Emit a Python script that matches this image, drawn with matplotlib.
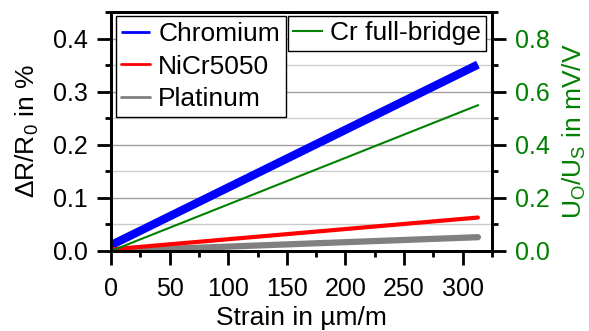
"""
Resistance change of thin-film strain gauges and Cr full-bridge output
versus applied strain
"""

import matplotlib
matplotlib.use("Agg")
import matplotlib.pyplot as plt
from matplotlib.ticker import MultipleLocator
import numpy as np

plt.rcParams["font.family"] = ["Liberation Sans", "DejaVu Sans"]
plt.rcParams["mathtext.fontset"] = "custom"
plt.rcParams["mathtext.rm"] = "Liberation Sans"
plt.rcParams["mathtext.it"] = "Liberation Sans:italic"

# strain in um/m (start and end of the linear ramps)
strain = [0, 313]
# resistance change in %
chromium = [0.011, 0.351]
nicr5050 = [0.003, 0.063]
platinum = [0.000, 0.026]
# bridge output in mV/V
cr_bridge = [0.0, 0.549]

green = "#008000"
fs_tick = 18
fs_label = 19

fig = plt.figure(figsize=(5.89, 3.31), dpi=100)
ax = fig.add_axes([0.1885, 0.2417, 0.6468, 0.722])
ax2 = ax.twinx()

l1, = ax.plot(strain, chromium, color="#0000ff", lw=6,
              solid_capstyle="butt", label="Chromium", zorder=3)
l2, = ax.plot(strain, nicr5050, color="#ff0000", lw=3,
              solid_capstyle="round", label="NiCr5050", zorder=3)
l3, = ax.plot(strain, platinum, color="#808080", lw=4.5,
              solid_capstyle="round", label="Platinum", zorder=2)
l4, = ax2.plot(strain, cr_bridge, color=green, lw=1.5,
               label="Cr full-bridge")

# axes format
ax.set_xlim([0, 325])
ax.set_ylim([0, 0.45])
ax2.set_ylim([0, 0.9])
ax.xaxis.set_major_locator(MultipleLocator(50))
ax.xaxis.set_minor_locator(MultipleLocator(25))
ax.yaxis.set_major_locator(MultipleLocator(0.1))
ax.yaxis.set_minor_locator(MultipleLocator(0.05))
ax2.yaxis.set_major_locator(MultipleLocator(0.2))
ax2.yaxis.set_minor_locator(MultipleLocator(0.1))
ax.yaxis.set_major_formatter(lambda v, p: f"{v:.1f}")
ax2.yaxis.set_major_formatter(lambda v, p: f"{v:.1f}")

ax.grid(True, which="major", axis="y", color="#a0a0a0", lw=1)
ax.grid(True, which="minor", axis="y", color="#cccccc", lw=1)
ax.set_axisbelow(True)

for a in (ax, ax2):
    for s in a.spines.values():
        s.set_linewidth(2)
    a.tick_params(which="major", direction="out", length=10, width=2,
                  labelsize=fs_tick, pad=6.5)
    a.tick_params(which="minor", direction="out", length=4.3, width=2)
ax.tick_params(axis="x", which="major", pad=8.5)
ax2.tick_params(axis="y", which="both", labelcolor=green)
ax.tick_params(axis="y", which="both", right=False)

ax.set_xlabel("Strain in µm/m", fontsize=fs_label, labelpad=4)
ax.set_ylabel("ΔR/R$_\\mathrm{0}$ in %", fontsize=fs_label, labelpad=9)
ax2.set_ylabel("U$_\\mathrm{O}$/U$_\\mathrm{S}$ in mV/V", fontsize=fs_label,
               color=green, labelpad=8)

leg1 = ax2.legend(handles=[l1, l2, l3], loc="upper left",
                  bbox_to_anchor=(0.012, 0.983), fontsize=fs_label,
                  fancybox=False, edgecolor="black", framealpha=1,
                  handlelength=1.1, handletextpad=0.3, borderpad=0.22,
                  labelspacing=0.33, borderaxespad=0)
leg1.get_frame().set_linewidth(1)
for h in leg1.get_lines():
    h.set_linewidth(2)
ax2.add_artist(leg1)
leg2 = ax2.legend(handles=[l4], loc="upper right",
                  bbox_to_anchor=(0.984, 0.983), fontsize=fs_label,
                  fancybox=False, edgecolor="black", framealpha=1,
                  handlelength=1.1, handletextpad=0.3, borderpad=0.2,
                  borderaxespad=0)
leg2.get_frame().set_linewidth(1)

fig.savefig("out.png", dpi=100)
plt.close(fig)
